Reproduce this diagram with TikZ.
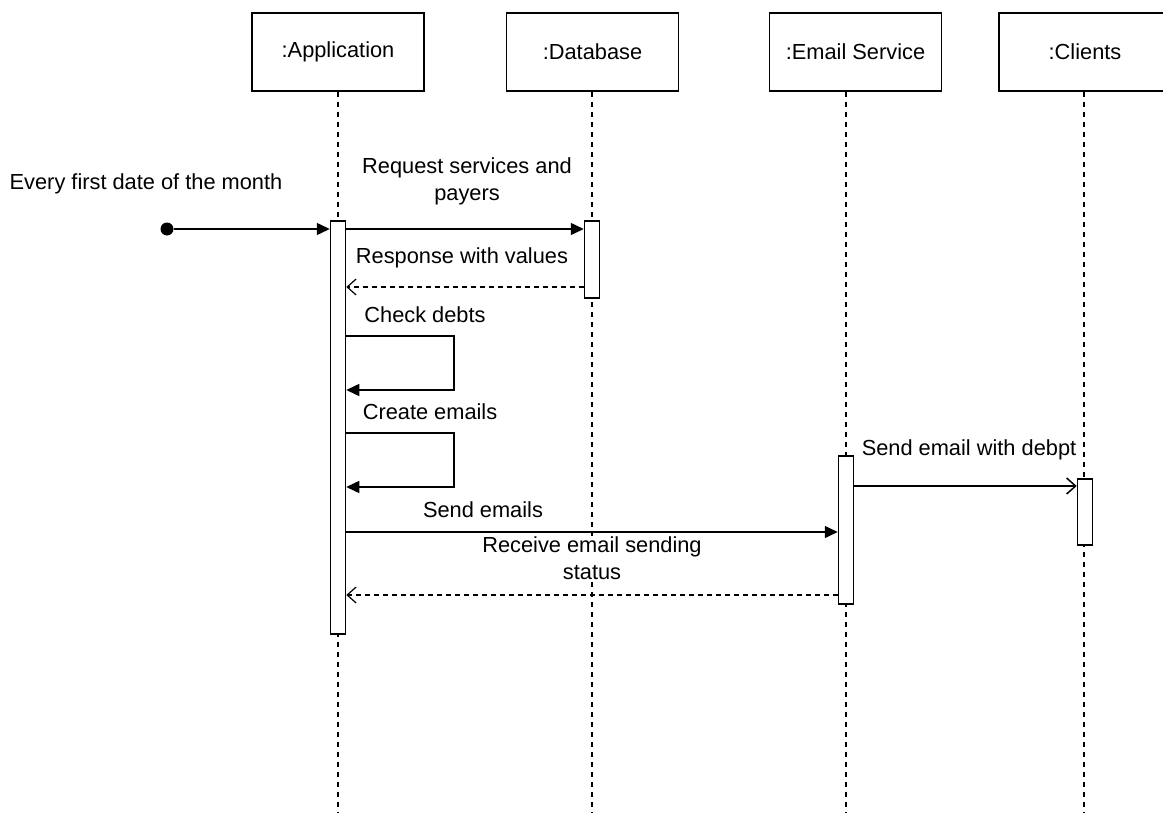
\documentclass[tikz,border=0pt]{standalone}
\usepackage{fontspec}
\setmainfont{Liberation Sans}
\usetikzlibrary{arrows.meta}
\begin{document}
\begin{tikzpicture}[x=1pt,y=-1pt,
  txt/.style={font=\fontsize{21.8}{27}\selectfont},
  head/.style={txt, draw, line width=1.5pt, minimum height=78pt, minimum width=172pt, inner sep=0pt},
  life/.style={line width=1.4pt, dash pattern=on 5pt off 5pt},
  act/.style={draw, fill=white, line width=1.5pt, minimum width=15pt, inner sep=0pt, anchor=north},
  msg/.style={line width=1.5pt, -{Triangle[length=13pt,width=12pt]}},
  msgopen/.style={line width=1.5pt, -{Straight Barb[length=9pt,width=16pt]}},
  ret/.style={line width=1.2pt, dash pattern=on 5pt off 4pt, -{Straight Barb[length=9pt,width=16pt]}},
  lbl/.style={txt, align=center, inner sep=0.5pt, fill=white}
]
\useasboundingbox (0,0) rectangle (1163,816);

% lifeline heads
\node[head] (app) at (338,52) {:Application};
\node[head] (db) at (592.5,52) {:Database};
\node[head] (em) at (855.5,52) {:Email Service};
\node[head, minimum width=200pt] (cl) at (1099,52) {};
\node[txt] (cltext) at (1085,52) {:Clients};

% lifeline ends
\coordinate (appEnd) at (338,812);
\coordinate (dbEnd) at (592,812);
\coordinate (emEnd) at (846,812);
\coordinate (clEnd) at (1084,812);

\draw[life] (appEnd |- app.south) -- (appEnd);
\draw[life] (dbEnd |- db.south) -- (dbEnd);
\draw[life] (emEnd |- em.south) -- (emEnd);
\draw[life] (clEnd |- cl.south) -- (clEnd);

% activation bars
\node[act, minimum height=413pt] (appact) at (338,220) {};
\node[act, minimum height=77pt] (dbact) at (592,220) {};
\node[act, minimum height=148pt] (emact) at (846,455) {};
\node[act, minimum height=66pt] (clact) at (1085,478) {};

% message rows
\node[circle, fill, inner sep=0pt, minimum size=13pt] (start) at (167,229) {};
\coordinate (m2) at (0,287);
\coordinate (l1) at (454,336);
\coordinate (l1b) at (454,390);
\coordinate (l2) at (454,433);
\coordinate (l2b) at (454,487);
\coordinate (m3) at (0,486);
\coordinate (m4) at (0,532);
\coordinate (m5) at (0,595);

% messages
\draw[msg] (start) -- (start -| appact.west);
\draw[msg] (start -| appact.east) -- (start -| dbact.west);
\draw[ret] (m2 -| dbact.west) -- (m2 -| appact.east);
\draw[msg] (l1 -| appact.east) -- (l1) -- (l1b) -- (l1b -| appact.east);
\draw[msg] (l2 -| appact.east) -- (l2) -- (l2b) -- (l2b -| appact.east);
\draw[msgopen] (m3 -| emact.east) -- (m3 -| clact.west);
\draw[msg] (m4 -| appact.east) -- (m4 -| emact.west);
\draw[ret] (m5 -| emact.west) -- (m5 -| appact.east);

% labels
\node[lbl] (t0) at (146,184) {Every first date of the month};
\node[lbl] (t1) at (467,181) {Request services and\\payers};
\node[lbl] (t2) at (462,258) {Response with values};
\node[lbl] (t3) at (425,315) {Check debts};
\node[lbl] (t4) at (430,412) {Create emails};
\node[lbl] (t5) at (969,450) {Send email with debpt};
\node[lbl] (t6) at (483,510) {Send emails};
\node[lbl] (t7) at (592,558) {Receive email sending\\status};
\end{tikzpicture}
\end{document}
